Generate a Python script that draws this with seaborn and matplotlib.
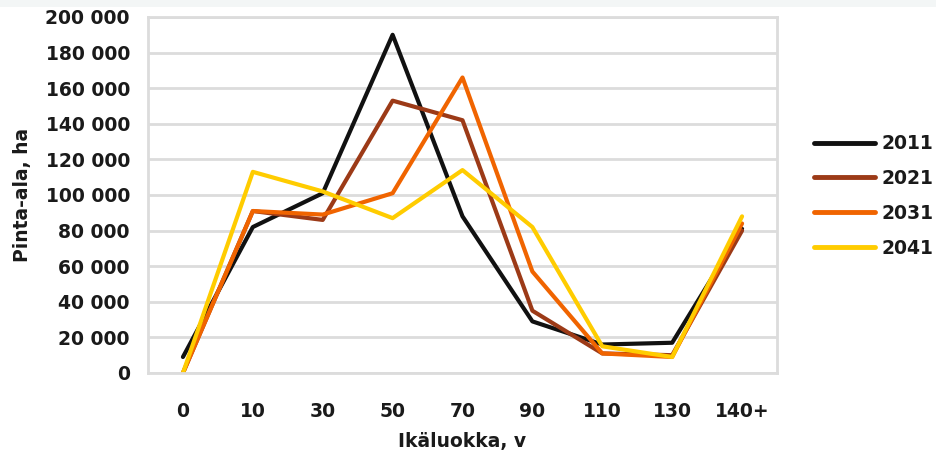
import pandas as pd
import matplotlib.pyplot as plt
import matplotlib.ticker as mticker
from matplotlib.patches import Rectangle
import seaborn as sns

# Age classes and forest area (ha) per year
age_classes = ["0", "10", "30", "50", "70", "90", "110", "130", "140+"]
years = ["2011", "2021", "2031", "2041"]
area_2011 = [9000, 82000, 101000, 190000, 88000, 29000, 16000, 17000, 81000]
area_2021 = [0, 91000, 86000, 153000, 142000, 35000, 11000, 10000, 80000]
area_2031 = [0, 91000, 89000, 101000, 166000, 57000, 11000, 9000, 84000]
area_2041 = [0, 113000, 102000, 87000, 114000, 82000, 15000, 9000, 88000]
colors = ["#111111", "#9c3a17", "#f06400", "#ffcc00"]

# Long format for seaborn
rows = []
for year, vals in zip(years, [area_2011, area_2021, area_2031, area_2041]):
    for age, v in zip(age_classes, vals):
        rows.append({"age": age, "area": v, "year": year})
df = pd.DataFrame(rows)

sns.set_style("white")
plt.rcParams["font.family"] = ["DejaVu Sans"]

fs = 13.5
txt_c = "#1a1a1a"
grid_c = "#dcdcdc"

fig = plt.figure(figsize=(9.36, 4.57), dpi=100)
ax = fig.add_axes([148 / 936, 1 - 373 / 457, (777 - 148) / 936, (373 - 17) / 457])

sns.lineplot(data=df, x="age", y="area", hue="year", palette=colors,
             linewidth=3, sort=False, ax=ax, legend=False)

ax.set_xlim(-0.5, len(age_classes) - 0.5)
ax.set_ylim(0, 200000)
ax.yaxis.set_major_locator(mticker.MultipleLocator(20000))
ax.yaxis.set_major_formatter(mticker.FuncFormatter(lambda v, p: f"{int(v):,}".replace(",", " ")))
ax.grid(axis="y", color=grid_c, linewidth=2)
ax.set_axisbelow(True)
for s in ax.spines.values():
    s.set_color(grid_c)
    s.set_linewidth(2)

ax.set_xticks(range(len(age_classes)))
ax.set_xticklabels(age_classes)
ax.set_xticks([i - 0.5 for i in range(len(age_classes) + 1)], minor=True)
ax.tick_params(axis="x", which="major", length=0, pad=21, labelsize=fs)
ax.tick_params(axis="x", which="minor", length=5, width=2, color=grid_c, direction="out")
ax.tick_params(axis="y", length=5, width=2, color=grid_c, direction="out", pad=8, labelsize=fs)
for lab in ax.get_xticklabels() + ax.get_yticklabels():
    lab.set_fontweight("bold")
    lab.set_color(txt_c)
ax.set_xlabel("Ikäluokka, v", fontsize=fs, fontweight="bold", color=txt_c, labelpad=8)
ax.set_ylabel("Pinta-ala, ha", fontsize=fs, fontweight="bold", color=txt_c, labelpad=10)

handles = [plt.Line2D([], [], color=c, linewidth=3.5) for c in colors]
fig.legend(handles, years, loc="center left", bbox_to_anchor=(814 / 936, 1 - 196 / 457),
           frameon=False, borderpad=0, borderaxespad=0, handlelength=3.25,
           handletextpad=0.35, labelspacing=0.85,
           prop={"weight": "bold", "size": fs})
for t in fig.legends[0].get_texts():
    t.set_color(txt_c)

# light strip along the top edge
fig.patches.append(Rectangle((0, 1 - 7 / 457), 1, 7 / 457, transform=fig.transFigure,
                             facecolor="#f3f6f6", edgecolor="none"))

fig.savefig("out.png", dpi=100)
